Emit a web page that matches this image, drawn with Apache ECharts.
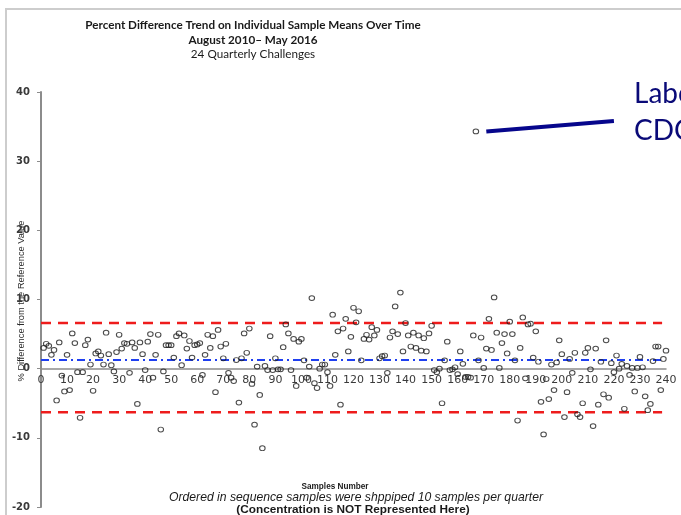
<!DOCTYPE html>
<html>
<head>
<meta charset="utf-8">
<script src="https://cdn.jsdelivr.net/npm/echarts@6/dist/echarts.min.js"></script>
<style>
  html, body { margin: 0; padding: 0; background: #fff; }
  #chart { width: 681px; height: 515px; }
</style>
</head>
<body>
<div id="chart"></div>
<script>
// Percent difference of each sample mean from its reference value, samples 1..240
const pctDiff = [
  3.0, 3.6, 3.3, 2.0, 2.7, -4.6, 3.8, -1.0, -3.3, 2.0,
  -3.1, 5.1, 3.7, -0.5, -7.1, -0.5, 3.4, 4.2, 0.6, -3.2,
  2.2, 2.5, 1.9, 0.6, 5.2, 2.1, 0.5, -0.4, 2.4, 4.9,
  2.9, 3.7, 3.6, -0.6, 3.8, 3.0, -5.1, 3.8, 2.1, -0.2,
  3.9, 5.0, -1.3, 2.0, 4.9, -8.8, -0.4, 3.4, 3.4, 3.4,
  1.6, 4.7, 5.1, 0.5, 4.8, 2.9, 4.0, 1.6, 3.4, 3.5,
  3.7, -0.9, 2.0, 4.9, 3.0, 4.7, -3.4, 5.6, 3.2, 1.5,
  3.6, -0.6, -1.3, -1.8, 1.25, -4.9, 1.5, 5.1, 2.3, 5.8,
  -2.2, -8.1, 0.3, -3.8, -11.5, 0.4, -0.2, 4.7, -0.2, 1.5,
  -0.1, -0.1, 3.1, 6.4, 5.1, -0.2, 4.3, -2.5, 3.9, 4.3,
  1.2, -1.3, 0.3, 10.2, -2.1, -2.8, 0.0, 0.6, 0.6, -0.5,
  -2.5, 7.8, 2.0, 5.4, -5.2, 5.8, 7.2, 2.5, 4.6, 8.8,
  6.7, 8.3, 1.2, 4.3, 4.9, 4.2, 6.0, 4.8, 5.6, 1.5,
  1.8, 1.9, -0.6, 4.5, 5.4, 9.0, 5.0, 11.0, 2.5, 6.6,
  4.8, 3.2, 5.2, 3.0, 4.8, 2.6, 4.4, 2.5, 5.1, 6.2,
  -0.2, -0.5, 0.0, -5.0, 1.2, 3.9, -0.2, -0.1, 0.2, -0.8,
  2.5, 0.7, -1.2, -1.2, -1.3, 4.8, 34.3, 1.2, 4.5, 0.1,
  2.9, 7.2, 2.7, 10.3, 5.2, 0.1, 3.7, 5.0, 2.2, 6.8,
  5.0, 1.2, -7.5, 3.0, 7.4, -1.4, 6.4, 6.5, 1.6, 5.4,
  1.0, -4.8, -9.5, -1.5, -4.4, 0.6, -3.1, 0.9, 4.1, 2.1,
  -7.0, -3.4, 1.4, -0.6, 2.3, -6.6, -7.0, -5.0, 2.3, 3.0,
  -0.1, -8.3, 2.9, -5.2, 1.0, -3.7, 4.1, -4.2, 0.8, -0.5,
  1.9, 0.0, 0.7, -5.8, 0.4, -0.9, 0.1, -3.3, 0.1, 1.7,
  0.2, -4.0, -6.0, -5.1, 1.1, 3.2, 3.2, -3.1, 1.4, 2.6
];
const sampleNo = pctDiff.map((_, i) => i + 1);

// Reference lines
const upperLimit = 6.6;
const lowerLimit = -6.3;
const meanDiff = 1.25;
const refLineSpan = [0, 238.5];

// Axis ranges
const xRange = { min: 0, max: 240, step: 10 };
const yRange = { min: -20, max: 40, step: 10 };

// Callout from the outlying sample towards the note text
const outlierIndex = 166;
const calloutEnd = [220, 35.8];

const points = sampleNo.map((s, i) => [s, pctDiff[i]]);
const hLine = v => refLineSpan.map(x => [x, v]);
const calloutStart = [sampleNo[outlierIndex] + 4, pctDiff[outlierIndex]];

// Plot box in pixels
const W = 681, H = 515;
const gridBox = { left: 41, right: 15, top: 92, bottom: 8 };
const plotH = H - gridBox.top - gridBox.bottom;
// distance from the bottom of the plot to the zero line, so the x axis sits on y = 0
const zeroLift = plotH * (0 - yRange.min) / (yRange.max - yRange.min);

const chart = echarts.init(document.getElementById('chart'), null, { renderer: 'canvas', width: W, height: H });

const axisFont = 'DejaVu Sans';
const textFont = 'Lato, "Liberation Sans", sans-serif';
const noteFont = '"Liberation Sans", sans-serif';

chart.setOption({
  animation: false,
  backgroundColor: '#ffffff',
  grid: Object.assign({ containLabel: false, outerBoundsMode: 'none' }, gridBox),
  xAxis: {
    type: 'value',
    min: xRange.min, max: xRange.max, interval: xRange.step,
    position: 'bottom',
    offset: -zeroLift,
    axisLine: { onZero: false, lineStyle: { color: '#8c8c8c', width: 1.5 } },
    axisTick: { show: false },
    splitLine: { show: false },
    axisLabel: { margin: 6, color: '#3a3a3a', fontFamily: axisFont, fontSize: 11 }
  },
  yAxis: {
    type: 'value',
    min: yRange.min, max: yRange.max, interval: yRange.step,
    axisLine: { show: true, lineStyle: { color: '#8c8c8c', width: 2 } },
    axisTick: { show: true, inside: false, length: 4, lineStyle: { color: '#8c8c8c', width: 1 } },
    splitLine: { show: false },
    axisLabel: { margin: 11, color: '#3a3a3a', fontFamily: axisFont, fontSize: 10, fontWeight: 'bold' }
  },
  series: [
    {
      type: 'line', data: hLine(upperLimit), symbol: 'none', silent: true, z: 3,
      lineStyle: { color: '#ee1c1c', width: 2.5, type: [10, 7] }
    },
    {
      type: 'line', data: hLine(lowerLimit), symbol: 'none', silent: true, z: 3,
      lineStyle: { color: '#ee1c1c', width: 2.5, type: [10, 7] }
    },
    {
      type: 'line', data: hLine(meanDiff), symbol: 'none', silent: true, z: 3,
      lineStyle: { color: '#1f3ff0', width: 2, type: [8, 4, 2, 4] }
    },
    {
      type: 'scatter', data: points, z: 5,
      symbol: 'circle', symbolSize: [5.5, 4.8],
      itemStyle: { color: 'rgba(255,255,255,0)', borderColor: '#1e1e1e', borderWidth: 1 }
    },
    {
      type: 'line', data: [calloutStart, calloutEnd], symbol: 'none', silent: true, z: 4,
      lineStyle: { color: '#06068c', width: 4 }
    }
  ],
  graphic: [
    // outer frame
    { type: 'polyline', shape: { points: [[6, 515], [6, 9], [681, 9]] },
      style: { stroke: '#cdcdcd', lineWidth: 2, fill: null } },
    // headings
    { type: 'text', x: 253, y: 25, style: { text: 'Percent Difference Trend on Individual Sample Means Over Time',
      font: 'bold 11.7px ' + textFont, fill: '#1a1a1a', textAlign: 'center', textVerticalAlign: 'middle' } },
    { type: 'text', x: 253, y: 40, style: { text: 'August 2010– May 2016',
      font: 'bold 11.7px ' + textFont, fill: '#1a1a1a', textAlign: 'center', textVerticalAlign: 'middle' } },
    { type: 'text', x: 253, y: 54, style: { text: '24 Quarterly Challenges',
      font: '11.7px ' + textFont, fill: '#1a1a1a', textAlign: 'center', textVerticalAlign: 'middle' } },
    // y axis title
    { type: 'text', x: 21, y: 301, rotation: Math.PI / 2,
      style: { text: '% Difference from the Reference Value', font: '9.3px "Liberation Sans", sans-serif',
        fill: '#2a2a2a', textAlign: 'center', textVerticalAlign: 'middle' } },
    // x axis notes
    { type: 'text', x: 335, y: 487, style: { text: 'Samples Number',
      font: 'bold 8.2px ' + noteFont, fill: '#1a1a1a', textAlign: 'center', textVerticalAlign: 'middle' } },
    { type: 'text', x: 356, y: 498, style: { text: 'Ordered in sequence samples were shppiped 10 samples per quarter',
      font: 'italic 12.2px ' + noteFont, fill: '#1a1a1a', textAlign: 'center', textVerticalAlign: 'middle' } },
    { type: 'text', x: 353, y: 510, style: { text: '(Concentration is NOT Represented Here)',
      font: 'bold 11.8px ' + noteFont, fill: '#1a1a1a', textAlign: 'center', textVerticalAlign: 'middle' } },
    // callout note
    { type: 'text', x: 634, y: 94, style: { text: 'Laboratory',
      font: '28px ' + textFont, fill: '#0a0a78', textAlign: 'left', textVerticalAlign: 'middle' } },
    { type: 'text', x: 634, y: 131, style: { text: 'CDC',
      font: '28px ' + textFont, fill: '#0a0a78', textAlign: 'left', textVerticalAlign: 'middle' } }
  ]
});
</script>
</body>
</html>
